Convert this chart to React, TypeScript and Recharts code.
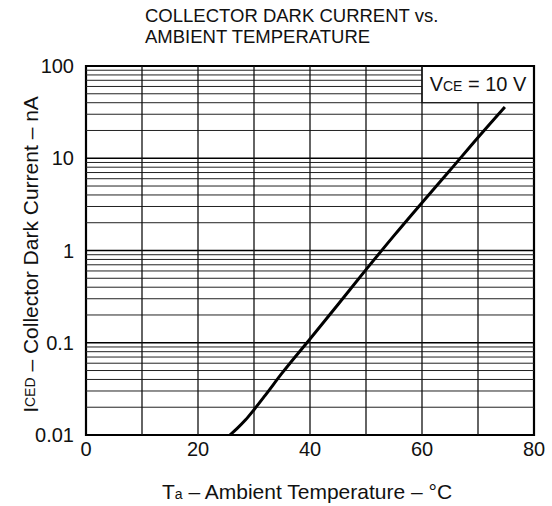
import React from 'react';
import {
  LineChart, Line,
  XAxis, YAxis,
  ReferenceLine, ReferenceArea,
  Label,
} from 'recharts';

// temperature (°C) vs dark current (nA)
const temps = [25.7, 27, 28.5, 30, 32, 35, 40, 45, 50, 55, 60, 65, 70, 74.8];
const darkCurrent = [0.01, 0.0118, 0.0146, 0.0188, 0.0269, 0.0468, 0.11, 0.26, 0.62, 1.45, 3.3, 7.4, 16.8, 36];

const xTicks = [0, 20, 40, 60, 80];
const xGrid = [10, 20, 30, 40, 50, 60, 70];
const yTicks = [0.01, 0.1, 1, 10, 100];
const yTickLabels = ['0.01', '0.1', '1', '10', '100'];
const decades = [0.01, 0.1, 1, 10];
const minorSteps = [2, 3, 4, 5, 6, 7, 8, 9];

// note box in the top right corner
const boxX = [60, 80];
const boxY = [40, 100];

const data = temps.map((t, i) => ({ t, i: darkCurrent[i] }));
const minorGrid = decades.flatMap(d => minorSteps.map(m => +(d * m).toPrecision(3)));
const majorGrid = yTicks.slice(1, -1);

const FONT = '"Liberation Sans", Arial, Helvetica, sans-serif';
const INK = '#111';

function VceLabel(props: any) {
  const vb = props.viewBox;
  const cx = vb.x + vb.width / 2;
  const cy = vb.y + vb.height / 2 + 7;
  return (
    <text x={cx} y={cy} textAnchor="middle" fontFamily={FONT} fontSize={20} fill={INK}>
      V<tspan fontSize={14}>CE</tspan> = 10 V
    </text>
  );
}

function YLabel(props: any) {
  const vb = props.viewBox;
  const x = 30;
  const y = vb.y + vb.height / 2 + 4;
  return (
    <text x={x} y={y} transform={`rotate(-90 ${x} ${y})`} textAnchor="middle" dominantBaseline="central"
      fontFamily={FONT} fontSize={21} fill={INK}>
      I<tspan fontSize={14}>CED</tspan> – Collector Dark Current – nA
    </text>
  );
}

function XLabel(props: any) {
  const vb = props.viewBox;
  const x = vb.x + vb.width / 2 - 3;
  const y = 499;
  return (
    <text x={x} y={y} textAnchor="middle" fontFamily={FONT} fontSize={21} fill={INK}>
      T<tspan fontSize={14}>a</tspan> – Ambient Temperature – °C
    </text>
  );
}

export default function App() {
  return (
    <div style={{ position: 'absolute', left: 0, top: 0, width: 552, height: 506, background: '#fff' }}>
      <div style={{ position: 'absolute', left: 145, top: 5, fontFamily: FONT, fontSize: 18.5, lineHeight: '21px', color: INK }}>
        <div>COLLECTOR DARK CURRENT vs.</div>
        <div>AMBIENT TEMPERATURE</div>
      </div>
      <LineChart width={552} height={506} data={data} margin={{ top: 66, right: 18, left: 0, bottom: 0 }}>
        <XAxis
          dataKey="t"
          type="number"
          domain={[0, 80]}
          ticks={xTicks}
          tickLine={false}
          axisLine={false}
          height={71}
          tick={{ fontFamily: FONT, fontSize: 20, fill: INK }}
          tickMargin={1}
        >
          <Label content={XLabel} />
        </XAxis>
        <YAxis
          dataKey="i"
          scale="log"
          domain={[0.01, 100]}
          ticks={yTicks}
          allowDataOverflow
          tickLine={false}
          axisLine={false}
          width={86}
          tickFormatter={(v: number) => yTickLabels[yTicks.indexOf(v)] ?? String(v)}
          tick={{ fontFamily: FONT, fontSize: 20, fill: INK }}
          tickMargin={6}
        >
          <Label content={YLabel} />
        </YAxis>
        {minorGrid.map(v => (
          <ReferenceLine
            key={'h' + v}
            stroke="#222"
            strokeWidth={1}
            segment={[{ x: 0, y: v }, { x: v > boxY[0] ? boxX[0] : 80, y: v }]}
          />
        ))}
        {majorGrid.map(v => (
          <ReferenceLine key={'H' + v} y={v} stroke="#000" strokeWidth={1.6} />
        ))}
        {xGrid.map(v => (
          <ReferenceLine
            key={'v' + v}
            stroke="#111"
            strokeWidth={1.3}
            segment={[{ x: v, y: 0.01 }, { x: v, y: v > boxX[0] ? boxY[0] : 100 }]}
          />
        ))}
        <ReferenceArea x1={boxX[0]} x2={boxX[1]} y1={boxY[0]} y2={boxY[1]} fill="#fff" fillOpacity={1}
          stroke="#111" strokeWidth={1.3} label={<VceLabel />} />
        <ReferenceArea x1={0} x2={80} y1={0.01} y2={100} fill="none" stroke="#000" strokeWidth={2.2} />
        <Line
          type="monotone"
          dataKey="i"
          stroke="#000"
          strokeWidth={3}
          dot={false}
          isAnimationActive={false}
        />
      </LineChart>
    </div>
  );
}
